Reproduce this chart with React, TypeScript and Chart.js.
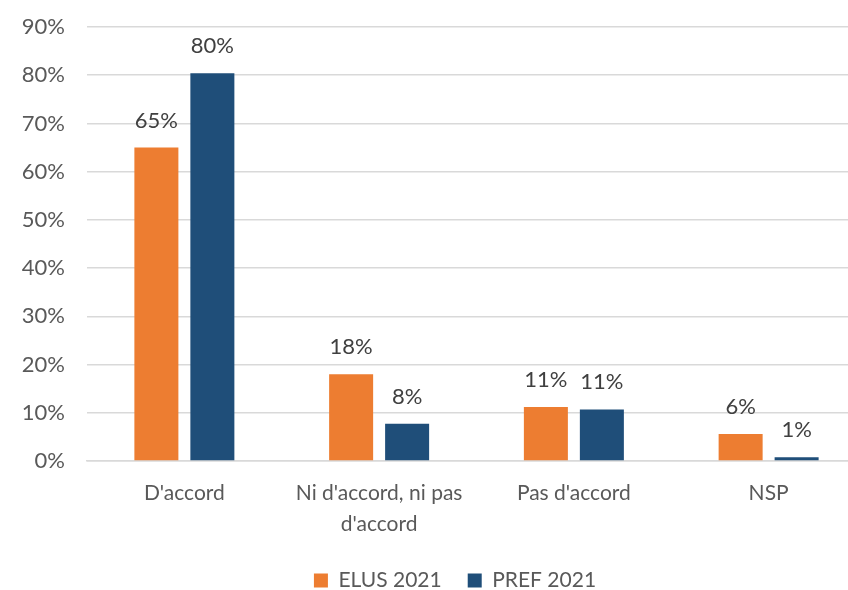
import React, { useEffect, useRef } from "react";
import { Chart, registerables } from "chart.js";

Chart.register(...registerables);

const categories: (string | string[])[] = [
  "D'accord",
  ["Ni d'accord, ni pas", "d'accord"],
  "Pas d'accord",
  "NSP",
];
const elus2021 = [65, 18, 11.2, 5.6];
const pref2021 = [80.4, 7.7, 10.7, 0.8];
const yTicks = [0, 10, 20, 30, 40, 50, 60, 70, 80, 90];

const FONT = "Lato, 'Open Sans', sans-serif";
const TEXT = "#595959";
const LABEL = "#404040";

// Percent labels above each bar
const valueLabels = {
  id: "valueLabels",
  afterDatasetsDraw(chart: any) {
    const ctx = chart.ctx;
    ctx.save();
    ctx.font = `22px ${FONT}`;
    ctx.fillStyle = LABEL;
    ctx.textAlign = "center";
    ctx.textBaseline = "bottom";
    chart.data.datasets.forEach((ds: any, i: number) => {
      const meta = chart.getDatasetMeta(i);
      meta.data.forEach((bar: any, j: number) => {
        const v = ds.data[j];
        ctx.fillText(`${Math.round(v)}%`, bar.x, bar.y - 16);
      });
    });
    ctx.restore();
  },
};

// Nudge the legend so it sits centred under the visible part of the chart
const legendShift = {
  id: "legendShift",
  afterLayout(chart: any) {
    const lg = chart.legend;
    if (!lg) return;
    lg.left += 22;
    lg.right += 22;
    lg.top += 11;
    lg.bottom += 11;
  },
};

export default function App() {
  const ref = useRef<HTMLCanvasElement>(null);

  useEffect(() => {
    if (!ref.current) return;
    const chart = new Chart(ref.current, {
      type: "bar",
      data: {
        labels: categories,
        datasets: [
          {
            label: "ELUS 2021",
            data: elus2021,
            backgroundColor: "#ED7D31",
            borderWidth: 0,
            categoryPercentage: 0.575,
            barPercentage: 0.786,
          },
          {
            label: "PREF 2021",
            data: pref2021,
            backgroundColor: "#1F4E79",
            borderWidth: 0,
            categoryPercentage: 0.575,
            barPercentage: 0.786,
          },
        ],
      },
      options: {
        responsive: false,
        animation: false,
        layout: { padding: { left: 0, right: 4, top: 27, bottom: 0 } },
        plugins: {
          legend: {
            position: "bottom",
            labels: {
              boxWidth: 14,
              boxHeight: 14,
              padding: 26,
              color: TEXT,
              font: { family: FONT, size: 21 },
            },
          },
          tooltip: { enabled: false },
        },
        scales: {
          x: {
            grid: { display: false, drawTicks: false },
            border: { display: true, color: "#D9D9D9", width: 1.5 },
            ticks: {
              color: TEXT,
              padding: 16,
              maxRotation: 0,
              autoSkip: false,
              font: { family: FONT, size: 21, lineHeight: 1.5 },
            },
            afterFit: (s: any) => {
              s.height = 72;
            },
          },
          y: {
            min: 0,
            max: 90,
            afterBuildTicks: (s: any) => {
              s.ticks = yTicks.map((v) => ({ value: v }));
            },
            grid: { color: "#D9D9D9", lineWidth: 1.5, drawTicks: false },
            border: { display: false },
            ticks: {
              color: TEXT,
              padding: 22,
              font: { family: FONT, size: 22 },
              callback: (v: any) => `${v}%`,
            },
            afterFit: (s: any) => {
              s.width = 87;
              s.paddingTop = 14;
              s.paddingBottom = 14;
            },
          },
        },
      },
      plugins: [valueLabels, legendShift],
    });
    return () => chart.destroy();
  }, []);

  return (
    <div
      style={{
        position: "fixed",
        left: 0,
        top: 0,
        width: 848,
        height: 590,
        overflow: "hidden",
        background: "#FFFFFF",
      }}
    >
      <canvas ref={ref} width={870} height={590} />
    </div>
  );
}
